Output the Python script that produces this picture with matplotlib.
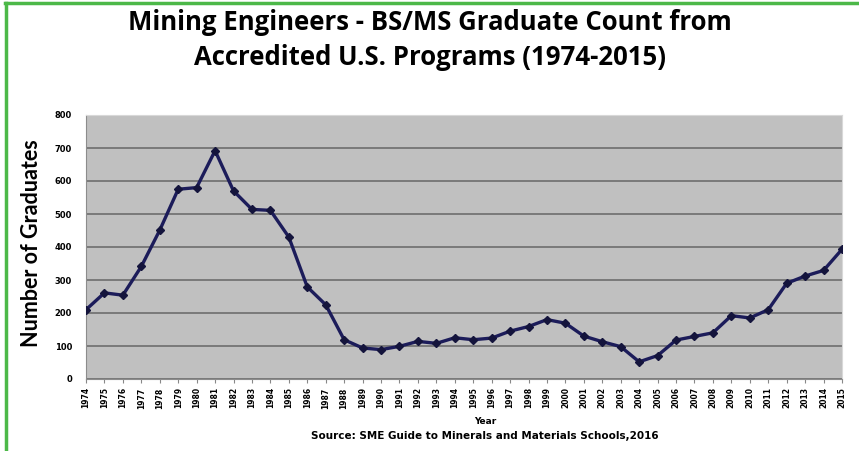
import numpy as np
import matplotlib.pyplot as plt
from matplotlib.lines import Line2D

years = list(range(1974, 2016))
graduates = [210, 261, 254, 341, 451, 575, 580, 692, 570, 514, 511, 430,
             279, 225, 119, 94, 89, 99, 114, 108, 125, 119, 124, 145,
             159, 180, 169, 130, 113, 98, 52, 71, 118, 129, 140, 192,
             185, 210, 290, 312, 329, 393]
yticks = [0, 100, 200, 300, 400, 500, 600, 700, 800]

title = "Mining Engineers - BS/MS Graduate Count from\nAccredited U.S. Programs (1974-2015)"
source = "Source: SME Guide to Minerals and Materials Schools,2016"

fig = plt.figure(figsize=(8.59, 4.51), dpi=100)
ax = fig.add_axes([86 / 859, 1 - 379 / 451, (842 - 86) / 859, (379 - 115) / 451])

x = np.arange(len(years))
ax.plot(x, graduates, color="#1c1c5a", lw=2.4, marker="D", ms=3.6,
        mfc="#14143c", mec="#14143c", zorder=3)

ax.set_facecolor("#c0c0c0")
ax.set_xlim(0, len(years) - 1)
ax.set_ylim(0, 800)
ax.set_yticks(yticks)
ax.set_yticklabels([str(v) for v in yticks], fontsize=6, fontweight="bold",
                   family="DejaVu Sans")
ax.set_xticks(x)
ax.set_xticklabels([str(y) for y in years], rotation=90, fontsize=5.5,
                   fontweight="bold", family="DejaVu Sans")
ax.tick_params(axis="x", length=3, color="#888888", pad=3)
ax.tick_params(axis="y", length=0, pad=10)
ax.grid(axis="y", color="#7a7a7a", lw=1.4)
ax.set_axisbelow(True)
for s in ["top", "right"]:
    ax.spines[s].set_color("#d8d8d8")
for s in ["left", "bottom"]:
    ax.spines[s].set_color("#8c8c8c")

fig.text(31 / 859, 1 - 243 / 451, "Number of Graduates", rotation=90,
         ha="center", va="center", fontsize=15.5, fontweight="bold",
         family="Lato")
fig.text(430 / 859, 1 - 40 / 451, title, ha="center", va="center",
         fontsize=18.5, fontweight="bold", family="Open Sans",
         linespacing=1.35)
fig.text(485 / 859, 1 - 421 / 451, "Year", ha="center", va="center",
         fontsize=6.5, fontweight="bold")
fig.text(485 / 859, 1 - 436 / 451, source, ha="center", va="center",
         fontsize=7.5, fontweight="bold")

# green frame on top and left
fig.add_artist(Line2D([6 / 859, 6 / 859], [0, 1 - 3 / 451],
                      transform=fig.transFigure, color="#4cb848", lw=2.5))
fig.add_artist(Line2D([5 / 859, 1], [1 - 3 / 451, 1 - 3 / 451],
                      transform=fig.transFigure, color="#4cb848", lw=2.5))

fig.savefig("out.png", dpi=100)
